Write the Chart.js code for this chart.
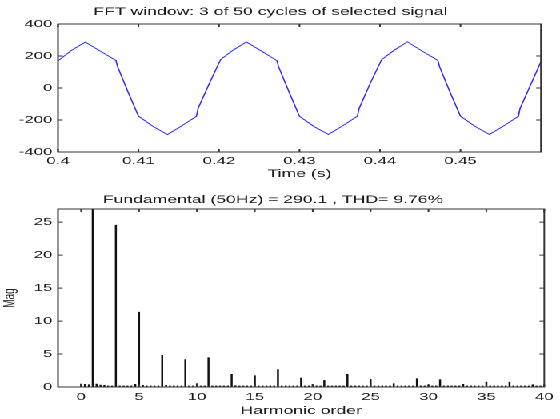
<!DOCTYPE html>
<html>
<head>
<meta charset="utf-8">
<script src="https://cdn.jsdelivr.net/npm/chart.js@4.4.1/dist/chart.umd.min.js"></script>
<style>
  html, body { margin: 0; padding: 0; background: #fff; }
  /* the reference is stretched sideways, so draw at 350 wide and widen by 1.6 */
  #wrap { position: absolute; left: 0; top: 0; width: 350px; height: 419px; transform: scaleX(1.6); transform-origin: 0 0; }
  .box { position: absolute; left: 0; width: 350px; }
</style>
</head>
<body>
<div id="wrap">
  <div class="box" style="top:0;height:190px"><canvas id="wave"></canvas></div>
  <div class="box" style="top:190px;height:229px"><canvas id="fft"></canvas></div>
</div>
<script>
// waveform (time in s, value)
const waveTime = [
  0.4000, 0.4017, 0.4034, 0.4053, 0.4072, 0.4074, 0.4087, 0.4100, 0.4118, 0.4136, 0.4154, 0.4172, 0.4174, 0.4188,
  0.4202, 0.4218, 0.4234, 0.4253, 0.4272, 0.4274, 0.4287, 0.4300, 0.4318, 0.4336, 0.4354, 0.4372, 0.4374, 0.4388,
  0.4402, 0.4418, 0.4434, 0.4453, 0.4472, 0.4474, 0.4487, 0.4500, 0.4518, 0.4536, 0.4554, 0.4572, 0.4574, 0.4588,
  0.4600
];
const waveValue = [
  170, 236, 287, 229, 172, 134, -25, -176, -240, -291, -236, -177, -128, 28,
  178, 238, 288, 230, 171, 133, -24, -177, -241, -290, -235, -176, -129, 30,
  177, 237, 289, 229, 172, 134, -26, -176, -240, -290, -236, -177, -128, 29,
  165
];
const timeTicks = [0.4, 0.41, 0.42, 0.43, 0.44, 0.45];
const valueTicks = [-400, -200, 0, 200, 400];

// harmonic spectrum, 1/3 order resolution (3 cycle window)
const harmonicOrder = [
  0, 0.33, 0.67, 1, 1.33, 1.67, 2, 2.33, 2.67, 3, 3.33, 3.67, 4, 4.33, 4.67, 5, 5.33, 5.67,
  6, 6.33, 6.67, 7, 7.33, 7.67, 8, 8.33, 8.67, 9, 9.33, 9.67, 10, 10.33, 10.67, 11, 11.33, 11.67,
  12, 12.33, 12.67, 13, 13.33, 13.67, 14, 14.33, 14.67, 15, 15.33, 15.67, 16, 16.33, 16.67, 17, 17.33, 17.67,
  18, 18.33, 18.67, 19, 19.33, 19.67, 20, 20.33, 20.67, 21, 21.33, 21.67, 22, 22.33, 22.67, 23, 23.33, 23.67,
  24, 24.33, 24.67, 25, 25.33, 25.67, 26, 26.33, 26.67, 27, 27.33, 27.67, 28, 28.33, 28.67, 29, 29.33, 29.67,
  30, 30.33, 30.67, 31, 31.33, 31.67, 32, 32.33, 32.67, 33, 33.33, 33.67, 34, 34.33, 34.67, 35, 35.33, 35.67,
  36, 36.33, 36.67, 37, 37.33, 37.67, 38, 38.33, 38.67, 39, 39.33, 39.67, 40
];
const harmonicMag = [
  0.5, 0.45, 0.4, 290.1, 0.5, 0.35, 0.3, 0.2, 0.2, 24.6, 0.2, 0.2, 0.2, 0.2, 0.45, 11.4, 0.3, 0.2,
  0.2, 0.2, 0.2, 4.85, 0.3, 0.2, 0.2, 0.2, 0.2, 4.2, 0.2, 0.2, 0.55, 0.2, 0.2, 4.5, 0.2, 0.2,
  0.2, 0.2, 0.2, 1.97, 0.25, 0.2, 0.2, 0.2, 0.2, 1.76, 0.2, 0.2, 0.2, 0.2, 0.2, 2.7, 0.2, 0.2,
  0.2, 0.2, 0.2, 1.4, 0.2, 0.2, 0.4, 0.2, 0.2, 1.05, 0.2, 0.2, 0.2, 0.2, 0.2, 1.97, 0.2, 0.2,
  0.2, 0.2, 0.2, 1.2, 0.2, 0.2, 0.2, 0.2, 0.2, 0.55, 0.2, 0.2, 0.2, 0.2, 0.2, 1.3, 0.2, 0.2,
  0.35, 0.2, 0.2, 1.15, 0.2, 0.2, 0.2, 0.2, 0.2, 0.45, 0.2, 0.2, 0.2, 0.2, 0.2, 0.8, 0.2, 0.2,
  0.2, 0.2, 0.2, 0.8, 0.2, 0.2, 0.2, 0.2, 0.2, 0.4, 0.2, 0.2, 0.2
];
const orderTicks = [0, 5, 10, 15, 20, 25, 30, 35, 40];
const magTicks = [0, 5, 10, 15, 20, 25];

const FONT = "'Liberation Sans', Arial, Helvetica, sans-serif";
const TEXT = '#1a1a1a';

// matlab style box with ticks pointing inward on all sides
const framePlugin = {
  id: 'frame',
  afterDraw(chart) {
    const { ctx, chartArea: a, scales: { x, y } } = chart;
    const tl = 3;
    ctx.save();
    ctx.strokeStyle = '#333';
    ctx.lineWidth = 1;
    ctx.strokeRect(a.left, a.top, a.right - a.left, a.bottom - a.top);
    ctx.beginPath();
    x.ticks.forEach(t => {
      const px = x.getPixelForValue(t.value);
      ctx.moveTo(px, a.bottom); ctx.lineTo(px, a.bottom - tl);
      ctx.moveTo(px, a.top); ctx.lineTo(px, a.top + tl);
    });
    y.ticks.forEach(t => {
      const py = y.getPixelForValue(t.value);
      ctx.moveTo(a.left, py); ctx.lineTo(a.left + tl, py);
      ctx.moveTo(a.right, py); ctx.lineTo(a.right - tl, py);
    });
    ctx.stroke();
    ctx.restore();
  }
};

const setTicks = list => s => { s.ticks = list.map(v => ({ value: v })); };

new Chart(document.getElementById('wave'), {
  type: 'line',
  data: {
    datasets: [{
      data: waveTime.map((t, i) => ({ x: t, y: waveValue[i] })),
      borderColor: '#2a2aff',
      borderWidth: 0.8,
      pointRadius: 0,
      tension: 0
    }]
  },
  options: {
    responsive: true,
    maintainAspectRatio: false,
    animation: false,
    devicePixelRatio: 2,
    layout: { padding: { left: 0, right: 11.9, top: 0, bottom: 0 } },
    plugins: {
      legend: { display: false },
      tooltip: { enabled: false },
      title: {
        display: true,
        text: 'FFT window: 3 of 50 cycles of selected signal',
        color: TEXT,
        font: { family: FONT, size: 11, weight: 'normal' },
        padding: { top: 5.4, bottom: 5.4 }
      }
    },
    scales: {
      x: {
        type: 'linear',
        min: 0.4,
        max: 0.46,
        bounds: 'data',
        afterBuildTicks: setTicks(timeTicks),
        afterFit: s => { s.height = 38; },
        grid: { display: false, drawTicks: false },
        border: { display: false },
        ticks: {
          padding: 3,
          color: TEXT,
          font: { family: FONT, size: 10.5 },
          maxRotation: 0,
          callback: v => String(+v.toFixed(2))
        },
        title: {
          display: true,
          text: 'Time (s)',
          color: TEXT,
          font: { family: FONT, size: 11 },
          padding: { top: 0, bottom: 9.4 }
        }
      },
      y: {
        min: -400,
        max: 400,
        bounds: 'data',
        afterBuildTicks: setTicks(valueTicks),
        afterFit: s => { s.width = 36.25; },
        grid: { display: false, drawTicks: false },
        border: { display: false },
        ticks: {
          padding: 3.5,
          color: TEXT,
          font: { family: FONT, size: 10.5 },
          callback: v => String(v)
        }
      }
    }
  },
  plugins: [framePlugin]
});

new Chart(document.getElementById('fft'), {
  type: 'bar',
  data: {
    datasets: [{
      data: harmonicOrder.map((h, i) => ({ x: h, y: harmonicMag[i] })),
      backgroundColor: '#111',
      barThickness: 1.25,
      inflateAmount: 0,
      borderWidth: 0
    }]
  },
  options: {
    responsive: true,
    maintainAspectRatio: false,
    animation: false,
    devicePixelRatio: 2,
    layout: { padding: { left: 0, right: 8.75, top: 0, bottom: 0 } },
    plugins: {
      legend: { display: false },
      tooltip: { enabled: false },
      title: {
        display: true,
        text: 'Fundamental (50Hz) = 290.1 , THD= 9.76%',
        color: TEXT,
        font: { family: FONT, size: 11, weight: 'normal' },
        padding: { top: 3.4, bottom: 2.4 }
      }
    },
    scales: {
      x: {
        type: 'linear',
        min: -2,
        max: 40,
        offset: false,
        bounds: 'data',
        afterBuildTicks: setTicks(orderTicks),
        afterFit: s => { s.height = 32; },
        grid: { display: false, drawTicks: false, offset: false },
        border: { display: false },
        ticks: {
          padding: 4,
          color: TEXT,
          font: { family: FONT, size: 10.5 },
          maxRotation: 0,
          callback: v => String(v)
        },
        title: {
          display: true,
          text: 'Harmonic order',
          color: TEXT,
          font: { family: FONT, size: 11 },
          padding: { top: 0, bottom: 1.4 }
        }
      },
      y: {
        min: 0,
        max: 27,
        bounds: 'data',
        afterBuildTicks: setTicks(magTicks),
        afterFit: s => { s.width = 36.25; },
        grid: { display: false, drawTicks: false },
        border: { display: false },
        ticks: {
          padding: 3.5,
          color: TEXT,
          font: { family: FONT, size: 10.5 },
          callback: v => String(v)
        },
        title: {
          display: true,
          text: 'Mag',
          color: TEXT,
          font: { family: FONT, size: 10 },
          padding: { top: 0, bottom: 0 }
        }
      }
    }
  },
  plugins: [framePlugin]
});
</script>
</body>
</html>
